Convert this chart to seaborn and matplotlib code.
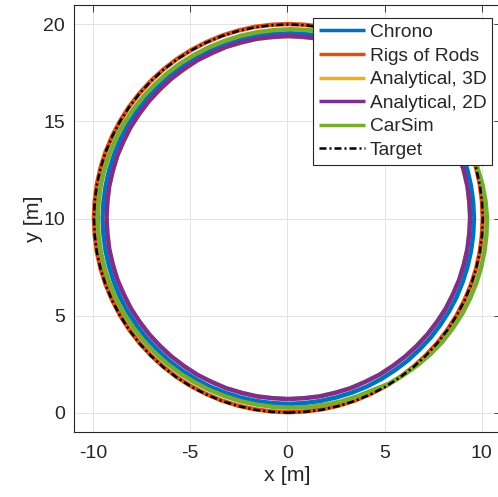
import matplotlib
matplotlib.use("Agg")
import matplotlib.pyplot as plt
import seaborn as sns
import pandas as pd

# ---------------- data (every 5 degrees of heading) ----------------
target_x = [0.05, 0.92, 1.79, 2.64, 3.47, 4.28, 5.05, 5.79, 6.48, 7.12, 7.71, 8.24, 8.71, 9.11, 9.45, 9.71, 9.90, 10.01, 10.05,
            10.01, 9.90, 9.71, 9.45, 9.11, 8.71, 8.24, 7.71, 7.12, 6.48, 5.79, 5.05, 4.28, 3.47, 2.64, 1.79, 0.92, 0.05,
            -0.82, -1.69, -2.54, -3.37, -4.18, -4.95, -5.69, -6.38, -7.02, -7.61, -8.14, -8.61, -9.01, -9.35, -9.61, -9.80, -9.91, -9.95,
            -9.91, -9.80, -9.61, -9.35, -9.01, -8.61, -8.14, -7.61, -7.02, -6.38, -5.69, -4.95, -4.18, -3.37, -2.54, -1.69, -0.82, 0.05]
target_y = [0.00, 0.04, 0.15, 0.34, 0.60, 0.94, 1.34, 1.81, 2.34, 2.93, 3.57, 4.26, 5.00, 5.77, 6.58, 7.41, 8.26, 9.13, 10.00,
            10.87, 11.74, 12.59, 13.42, 14.23, 15.00, 15.74, 16.43, 17.07, 17.66, 18.19, 18.66, 19.06, 19.40, 19.66, 19.85, 19.96, 20.00,
            19.96, 19.85, 19.66, 19.40, 19.06, 18.66, 18.19, 17.66, 17.07, 16.43, 15.74, 15.00, 14.23, 13.42, 12.59, 11.74, 10.87, 10.00,
            9.13, 8.26, 7.41, 6.58, 5.77, 5.00, 4.26, 3.57, 2.93, 2.34, 1.81, 1.34, 0.94, 0.60, 0.34, 0.15, 0.04, 0.00]

ror_x = [0.05, 0.92, 1.79, 2.64, 3.47, 4.28, 5.05, 5.79, 6.48, 7.12, 7.71, 8.24, 8.71, 9.11, 9.45, 9.71, 9.90, 10.01, 10.05,
         10.01, 9.90, 9.71, 9.45, 9.11, 8.71, 8.24, 7.71, 7.12, 6.48, 5.79, 5.05, 4.28, 3.47, 2.64, 1.79, 0.92, 0.05,
         -0.82, -1.69, -2.54, -3.37, -4.18, -4.95, -5.69, -6.38, -7.02, -7.61, -8.14, -8.61, -9.01, -9.35, -9.61, -9.80, -9.91, -9.95,
         -9.91, -9.80, -9.61, -9.35, -9.01, -8.61, -8.14, -7.61, -7.02, -6.38, -5.69, -4.95, -4.18, -3.37, -2.54, -1.69, -0.82, 0.05]
ror_y = [0.02, 0.06, 0.17, 0.36, 0.62, 0.96, 1.36, 1.83, 2.36, 2.95, 3.59, 4.28, 5.02, 5.79, 6.60, 7.43, 8.28, 9.15, 10.02,
         10.89, 11.76, 12.61, 13.44, 14.25, 15.02, 15.76, 16.45, 17.09, 17.68, 18.21, 18.68, 19.08, 19.42, 19.68, 19.87, 19.98, 20.02,
         19.98, 19.87, 19.68, 19.42, 19.08, 18.68, 18.21, 17.68, 17.09, 16.45, 15.76, 15.02, 14.25, 13.44, 12.61, 11.76, 10.89, 10.02,
         9.15, 8.28, 7.43, 6.60, 5.79, 5.02, 4.28, 3.59, 2.95, 2.36, 1.83, 1.36, 0.96, 0.62, 0.36, 0.17, 0.06, 0.02]

chrono_x = [0.05, 0.88, 1.71, 2.52, 3.32, 4.09, 4.83, 5.53, 6.19, 6.80, 7.37, 7.87, 8.32, 8.71, 9.02, 9.27, 9.45, 9.56, 9.60,
            9.56, 9.45, 9.27, 9.02, 8.71, 8.32, 7.87, 7.37, 6.80, 6.19, 5.53, 4.83, 4.09, 3.32, 2.52, 1.71, 0.88, 0.05,
            -0.78, -1.61, -2.42, -3.22, -3.99, -4.73, -5.43, -6.09, -6.70, -7.27, -7.77, -8.22, -8.61, -8.92, -9.17, -9.35, -9.46, -9.50,
            -9.46, -9.35, -9.17, -8.92, -8.61, -8.22, -7.77, -7.27, -6.70, -6.09, -5.43, -4.73, -3.99, -3.22, -2.42, -1.61, -0.78, 0.05]
chrono_y = [0.45, 0.49, 0.60, 0.78, 1.03, 1.34, 1.73, 2.18, 2.68, 3.25, 3.86, 4.52, 5.22, 5.96, 6.73, 7.53, 8.34, 9.17, 10.00,
            10.83, 11.66, 12.47, 13.27, 14.04, 14.78, 15.48, 16.14, 16.75, 17.32, 17.82, 18.27, 18.66, 18.97, 19.22, 19.40, 19.51, 19.55,
            19.51, 19.40, 19.22, 18.97, 18.66, 18.27, 17.82, 17.32, 16.75, 16.14, 15.48, 14.78, 14.04, 13.27, 12.47, 11.66, 10.83, 10.00,
            9.17, 8.34, 7.53, 6.73, 5.96, 5.22, 4.52, 3.86, 3.25, 2.68, 2.18, 1.73, 1.34, 1.03, 0.78, 0.60, 0.49, 0.45]

an3d_x = [0.05, 1.68, 3.26, 4.74, 6.07, 7.22, 8.16, 8.85, 9.27, 9.41, 9.27, 8.85, 8.16, 7.22, 6.07, 4.74, 3.26, 1.68, 0.05,
          -1.58, -3.16, -4.64, -5.97, -7.12, -8.06, -8.75, -9.17, -9.31, -9.17, -8.75, -8.06, -7.12, -5.97, -4.64, -3.16, -1.58, 0.05]
an3d_y = [0.69, 0.83, 1.25, 1.94, 2.88, 4.03, 5.36, 6.84, 8.42, 10.04, 11.66, 13.24, 14.72, 16.05, 17.20, 18.14, 18.83, 19.25, 19.39,
          19.25, 18.83, 18.14, 17.20, 16.05, 14.72, 13.24, 11.66, 10.04, 8.42, 6.84, 5.36, 4.03, 2.88, 1.94, 1.25, 0.83, 0.69]

an2d_x = [0.05, 0.87, 1.67, 2.47, 3.25, 4.00, 4.73, 5.41, 6.06, 6.66, 7.21, 7.71, 8.15, 8.52, 8.84, 9.08, 9.26, 9.36, 9.40,
          9.36, 9.26, 9.08, 8.84, 8.52, 8.15, 7.71, 7.21, 6.66, 6.06, 5.41, 4.73, 4.00, 3.25, 2.47, 1.67, 0.87, 0.05,
          -0.77, -1.57, -2.37, -3.15, -3.90, -4.63, -5.31, -5.96, -6.56, -7.11, -7.61, -8.05, -8.42, -8.74, -8.98, -9.16, -9.26, -9.30,
          -9.26, -9.16, -8.98, -8.74, -8.42, -8.05, -7.61, -7.11, -6.56, -5.96, -5.31, -4.63, -3.90, -3.15, -2.37, -1.57, -0.77, 0.05]
an2d_y = [0.70, 0.74, 0.84, 1.02, 1.26, 1.58, 1.95, 2.39, 2.89, 3.44, 4.04, 4.69, 5.37, 6.10, 6.85, 7.63, 8.43, 9.23, 10.05,
          10.87, 11.67, 12.47, 13.25, 14.00, 14.73, 15.41, 16.06, 16.66, 17.21, 17.71, 18.15, 18.52, 18.84, 19.08, 19.26, 19.36, 19.40,
          19.36, 19.26, 19.08, 18.84, 18.52, 18.15, 17.71, 17.21, 16.66, 16.06, 15.41, 14.73, 14.00, 13.25, 12.47, 11.67, 10.87, 10.05,
          9.23, 8.43, 7.63, 6.85, 6.10, 5.37, 4.69, 4.04, 3.44, 2.89, 2.39, 1.95, 1.58, 1.26, 1.02, 0.84, 0.74, 0.70]

carsim_x = [0.20, 1.07, 1.93, 2.78, 3.60, 4.40, 5.25, 6.00, 6.72, 7.38, 7.98, 8.52, 9.00, 9.40, 9.72, 9.97, 10.14, 10.24, 10.27,
            10.20, 10.05, 9.81, 9.55, 9.22, 8.82, 8.35, 7.82, 7.24, 6.60, 5.91, 5.18, 4.40, 3.60, 2.78, 1.93, 1.07, 0.20,
            -0.67, -1.53, -2.38, -3.20, -4.00, -4.78, -5.51, -6.20, -6.84, -7.42, -7.95, -8.42, -8.82, -9.15, -9.41, -9.60, -9.71, -9.75,
            -9.71, -9.60, -9.41, -9.15, -8.82, -8.42, -7.95, -7.42, -6.84, -6.20, -5.51, -4.78, -4.00, -3.20, -2.38, -1.53, -0.67, 0.20]
carsim_y = [0.25, 0.29, 0.40, 0.58, 0.84, 1.16, 1.50, 1.95, 2.46, 3.03, 3.65, 4.36, 5.10, 5.88, 6.67, 7.48, 8.31, 9.15, 10.00,
            10.85, 11.69, 12.52, 13.33, 14.12, 14.88, 15.59, 16.27, 16.89, 17.47, 17.99, 18.44, 18.84, 19.16, 19.42, 19.60, 19.71, 19.75,
            19.71, 19.60, 19.42, 19.16, 18.84, 18.44, 17.99, 17.47, 16.89, 16.27, 15.59, 14.88, 14.12, 13.33, 12.52, 11.69, 10.85, 10.00,
            9.15, 8.31, 7.48, 6.67, 5.88, 5.12, 4.41, 3.73, 3.11, 2.53, 2.01, 1.56, 1.16, 0.84, 0.58, 0.40, 0.29, 0.25]

series_names = ["Chrono", "Rigs of Rods", "Analytical, 3D", "Analytical, 2D", "CarSim", "Target"]
series_x = [chrono_x, ror_x, an3d_x, an2d_x, carsim_x, target_x]
series_y = [chrono_y, ror_y, an3d_y, an2d_y, carsim_y, target_y]
colors = ["#0072BD", "#D95319", "#EDB120", "#7E2F8E", "#77AC30", "#000000"]

x_ticks = [-10, -5, 0, 5, 10]
y_ticks = [0, 5, 10, 15, 20]

# ---------------- style ----------------
sns.set_style("whitegrid")
plt.rcParams["font.family"] = ["Liberation Sans", "DejaVu Sans"]
plt.rcParams["lines.solid_capstyle"] = "butt"
plt.rcParams["lines.solid_joinstyle"] = "round"
plt.rcParams["lines.dash_joinstyle"] = "round"

fig = plt.figure(figsize=(4.98, 4.97), dpi=100)
ax = fig.add_axes([73.5 / 498, 65 / 497, 427.7 / 498, 427 / 497])

widths = {"Target": 1.8, "Analytical, 3D": 2.8}
for name, xs, ys, col in zip(series_names, series_x, series_y, colors):
    df = pd.DataFrame({"x": xs, "y": ys})
    sns.lineplot(data=df, x="x", y="y", sort=False, estimator=None, color=col,
                 lw=widths.get(name, 3.2), label=name, ax=ax)
    ln = ax.lines[-1]
    if name == "Target":
        ln.set_dashes((2.8, 1.2, 0.8, 1.2))
    ln.set_solid_joinstyle("round")
    ln.set_dash_joinstyle("round")

ax.set_xlim(-11, 11)
ax.set_ylim(-1, 21)
ax.set_xticks(x_ticks)
ax.set_yticks(y_ticks)
ax.set_xticklabels([str(v) for v in x_ticks])
ax.set_yticklabels([str(v) for v in y_ticks])

ax.grid(True, color="#e3e3e3", lw=0.7)
for s in ax.spines.values():
    s.set_color("#262626")
    s.set_linewidth(0.8)
    s.set_visible(True)
ax.tick_params(direction="in", top=True, right=True, length=5, width=0.6,
               color="#262626", labelcolor="#262626", labelsize=14)
ax.tick_params(axis="x", pad=9)
ax.tick_params(axis="y", pad=6)

ax.set_xlabel("x [m]", fontsize=15.4, color="#262626", labelpad=3)
ax.set_ylabel("y [m]", fontsize=15.4, color="#262626", labelpad=0)

leg = ax.legend(loc="upper right", bbox_to_anchor=(492 / 498, 1 - 18 / 497),
                bbox_transform=fig.transFigure, borderaxespad=0, fontsize=13.8,
                frameon=True, fancybox=False, framealpha=1, edgecolor="#262626",
                handlelength=2.4, handletextpad=0.25, labelspacing=0.32, borderpad=0.3)
leg.get_frame().set_linewidth(0.8)
for line in leg.get_lines():
    if line.get_label() == "Target":
        line.set_linewidth(1.8)
    else:
        line.set_linewidth(2.5)

fig.savefig("out.png", dpi=100)
